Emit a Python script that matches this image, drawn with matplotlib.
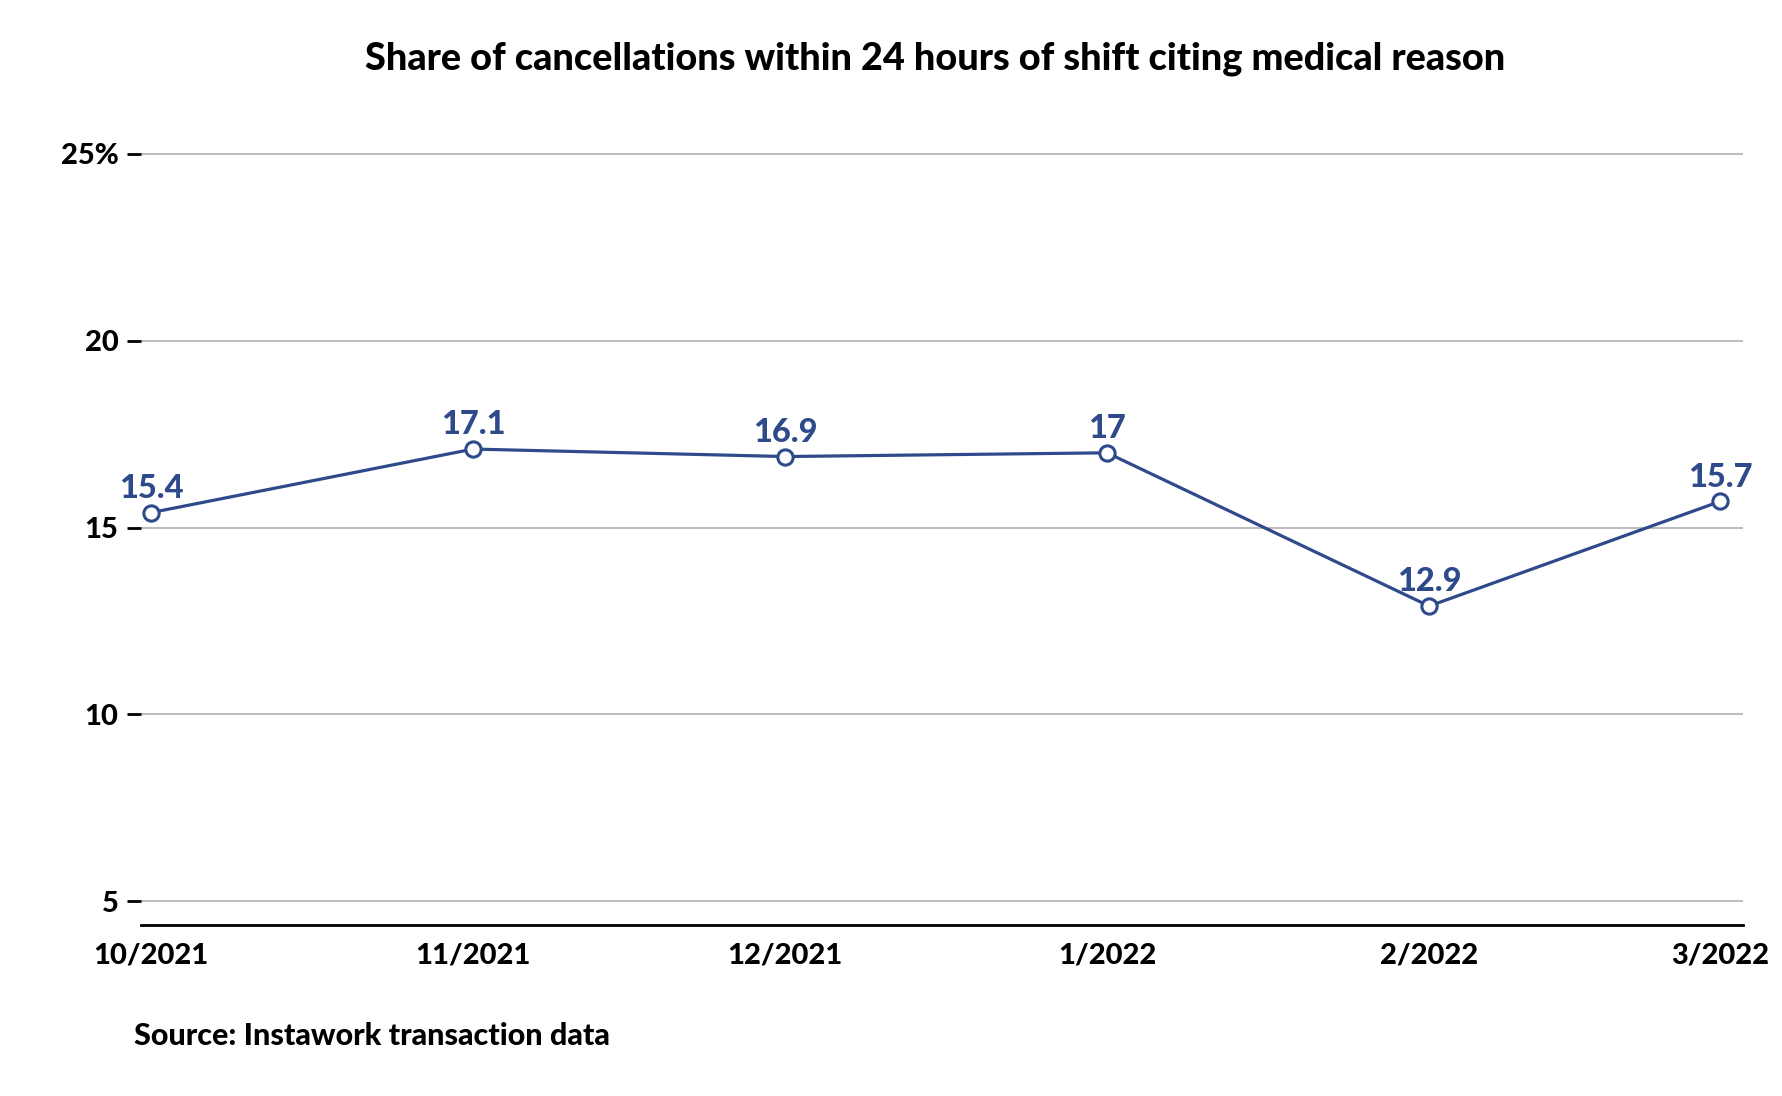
import pandas as pd
import matplotlib.pyplot as plt

months = ["2021-10-01", "2021-11-01", "2021-12-01", "2022-01-01", "2022-02-01", "2022-03-01"]
month_labels = ["10/2021", "11/2021", "12/2021", "1/2022", "2/2022", "3/2022"]
share = [15.4, 17.1, 16.9, 17.0, 12.9, 15.7]
share_labels = ["15.4", "17.1", "16.9", "17", "12.9", "15.7"]
y_ticks = [5, 10, 15, 20, 25]
y_tick_labels = ["5", "10", "15", "20", "25%"]

NAVY = "#2f4a8a"
plt.rcParams['font.family'] = ['Lato', 'DejaVu Sans']
W = "black"

fig = plt.figure(figsize=(17.82, 10.96), dpi=100)
ax = fig.add_axes([0.0789, 0.1557, 0.8992, 0.7211])

x = pd.to_datetime(months)
ax.plot(x, share, color=NAVY, lw=2.3, marker="o", ms=11,
        mfc="white", mec=NAVY, mew=2.2, zorder=3, clip_on=False)
for xi, yi, lab in zip(x, share, share_labels):
    ax.annotate(lab, (xi, yi), xytext=(0, 7), textcoords="offset points",
                ha="center", va="bottom", color=NAVY, fontsize=23.5, fontweight=W)

ax.set_xlim(x[0] - pd.Timedelta(days=1.0), x[-1] + pd.Timedelta(days=2.2))
ax.set_ylim(4.36, 25.5)
ax.set_yticks(y_ticks)
ax.set_yticklabels(y_tick_labels, fontweight=W)
ax.set_xticks(x)
ax.set_xticklabels(month_labels, fontweight=W)
ax.grid(axis="y", color="#bdbdbd", lw=1.5)
ax.set_axisbelow(True)

for s in ["top", "right", "left"]:
    ax.spines[s].set_visible(False)
ax.spines["bottom"].set_linewidth(2)
ax.tick_params(axis="y", length=10, width=2, color="black", pad=6, labelsize=21)
ax.tick_params(axis="x", length=0, pad=12, labelsize=21)

fig.text(0.525, 0.946, "Share of cancellations within 24 hours of shift citing medical reason",
         ha="center", va="center", fontsize=27.3, fontweight=W)
fig.text(0.075, 0.055, "Source: Instawork transaction data",
         ha="left", va="center", fontsize=22, fontweight=W)

fig.savefig("out.png", dpi=100)
